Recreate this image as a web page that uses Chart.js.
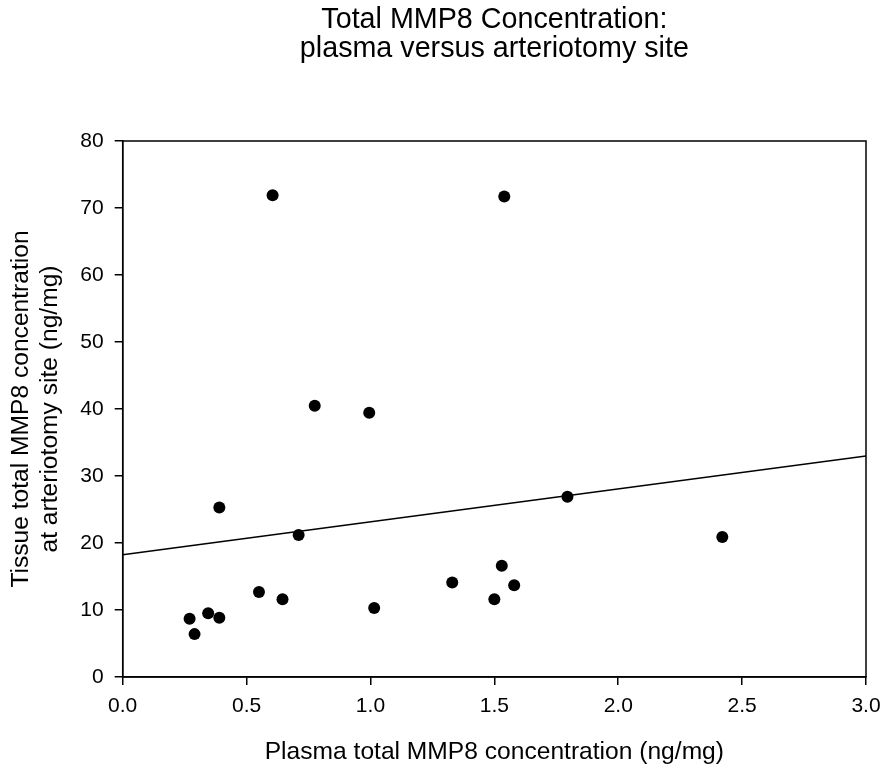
<!DOCTYPE html>
<html>
<head>
<meta charset="utf-8">
<script src="https://cdn.jsdelivr.net/npm/chart.js@4.4.0/dist/chart.umd.min.js"></script>
<style>
  html, body { margin: 0; padding: 0; background: #fff; }
  #wrap { width: 881px; height: 769px; position: relative; }
</style>
</head>
<body>
<div id="wrap"><canvas id="c"></canvas></div>
<script>
// Plasma total MMP8 (ng/mg)
const plasmaX = [0.27, 0.29, 0.345, 0.39, 0.39, 0.55, 0.605, 0.645, 0.71, 0.775, 0.995, 1.015, 1.33, 1.50, 1.53, 1.54, 1.58, 1.795, 2.42];
// Tissue total MMP8 at arteriotomy site (ng/mg)
const tissueY = [8.7, 6.4, 9.5, 8.85, 25.3, 12.7, 71.9, 11.6, 21.2, 40.5, 39.45, 10.3, 14.1, 11.6, 16.6, 71.7, 13.7, 26.9, 20.9];
// Regression line end points
const fitX = [0, 3];
const fitY = [18.25, 33.0];
const xTicks = [0.0, 0.5, 1.0, 1.5, 2.0, 2.5, 3.0];
const yTicks = [0, 10, 20, 30, 40, 50, 60, 70, 80];
const titleLines = ["Total MMP8 Concentration:", "plasma versus arteriotomy site"];
const xTitle = "Plasma total MMP8 concentration (ng/mg)";
const yTitle = ["Tissue total MMP8 concentration", "at arteriotomy site (ng/mg)"];

const FONT = "'Liberation Sans', Arial, Helvetica, sans-serif";

const framePlugin = {
  id: 'frame',
  afterDatasetsDraw(chart) {
    const {ctx, chartArea: a} = chart;
    ctx.save();
    ctx.strokeStyle = '#000';
    ctx.lineWidth = 1.5;
    ctx.strokeRect(a.left, a.top, a.right - a.left, a.bottom - a.top);
    ctx.restore();
  },
  afterDraw(chart) {
    const {ctx, chartArea: a} = chart;
    ctx.save();
    ctx.fillStyle = '#000';
    ctx.font = "28.7px " + FONT;
    ctx.textAlign = 'center';
    ctx.textBaseline = 'alphabetic';
    const cx = (a.left + a.right) / 2;
    ctx.fillText(titleLines[0], cx, 28);
    ctx.fillText(titleLines[1], cx, 57);
    ctx.restore();
  }
};

new Chart(document.getElementById('c'), {
  type: 'scatter',
  data: {
    datasets: [
      {
        data: plasmaX.map((x, i) => ({x: x, y: tissueY[i]})),
        backgroundColor: '#000',
        borderColor: '#000',
        pointRadius: 6,
        pointHoverRadius: 6,
        borderWidth: 0
      },
      {
        type: 'line',
        data: fitX.map((x, i) => ({x: x, y: fitY[i]})),
        borderColor: '#000',
        borderWidth: 1.5,
        pointRadius: 0,
        fill: false,
        showLine: true
      }
    ]
  },
  options: {
    responsive: true,
    maintainAspectRatio: false,
    animation: false,
    layout: { padding: { top: 141, right: 15, bottom: 0, left: 0 } },
    plugins: { legend: { display: false }, tooltip: { enabled: false }, title: { display: false } },
    scales: {
      x: {
        type: 'linear',
        min: 0, max: 3,
        afterFit(s) { s.height = 92; s.paddingLeft = 0; s.paddingRight = 0; },
        afterBuildTicks(s) { s.ticks = xTicks.map(v => ({value: v})); },
        ticks: {
          autoSkip: false, maxRotation: 0, padding: 9,
          color: '#000',
          font: { family: FONT, size: 21 },
          callback: v => Number(v).toFixed(1)
        },
        grid: { display: true, drawOnChartArea: false, drawTicks: true, tickLength: 8, color: '#000', lineWidth: 1.5 },
        border: { display: true, color: '#000', width: 1.5 },
        title: { display: true, text: xTitle, color: '#000', font: { family: FONT, size: 24.6 }, padding: { top: 0, bottom: 2 } }
      },
      y: {
        type: 'linear',
        min: 0, max: 80,
        afterFit(s) { s.width = 122.7; s.paddingTop = 0; s.paddingBottom = 0; },
        afterBuildTicks(s) { s.ticks = yTicks.map(v => ({value: v})); },
        ticks: {
          autoSkip: false, padding: 11,
          color: '#000',
          font: { family: FONT, size: 21 },
          callback: v => String(v)
        },
        grid: { display: true, drawOnChartArea: false, drawTicks: true, tickLength: 8, color: '#000', lineWidth: 1.5 },
        border: { display: true, color: '#000', width: 1.5 },
        title: { display: true, text: yTitle, color: '#000', font: { family: FONT, size: 24.6 }, padding: { top: 6, bottom: 0 } }
      }
    }
  },
  plugins: [framePlugin]
});
</script>
</body>
</html>
